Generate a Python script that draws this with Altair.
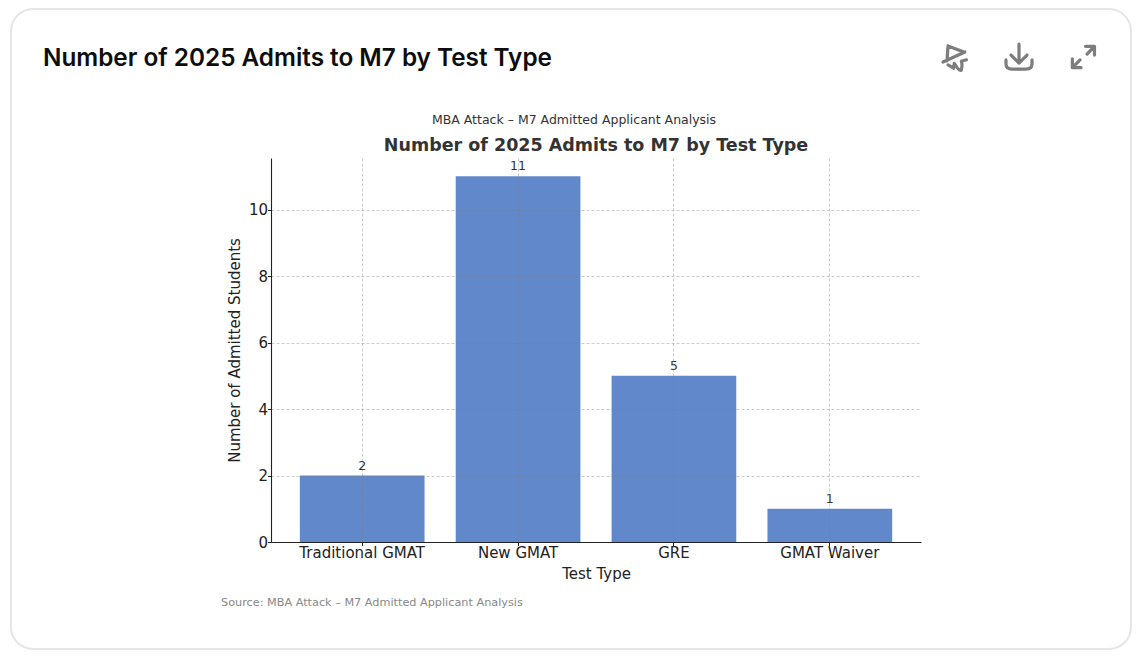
import altair as alt
import pandas as pd

categories = ["Traditional GMAT", "New GMAT", "GRE", "GMAT Waiver"]
admits = [2, 11, 5, 1]
card_title = "Number of 2025 Admits to M7 by Test Type"
super_title = "MBA Attack – M7 Admitted Applicant Analysis"
chart_title = "Number of 2025 Admits to M7 by Test Type"
source_note = "Source: MBA Attack – M7 Admitted Applicant Analysis"
x_title = "Test Type"
y_title = "Number of Admitted Students"

PLOT_X, PLOT_Y = 271, 158
FONT = "DejaVu Sans"

DOWNLOAD = "M0,-0.93 L0,0.43 M-0.57,-0.14 L0,0.43 L0.57,-0.14 M-0.93,0.21 L-0.93,0.5 Q-0.93,0.86 -0.5,0.86 L0.5,0.86 Q0.93,0.86 0.93,0.5 L0.93,0.21"
EXPAND = "M0.18,-0.76 L0.82,-0.76 L0.82,-0.14 M0.82,-0.76 L0.29,-0.21 M-0.76,0.14 L-0.76,0.76 L-0.14,0.76 M-0.76,0.76 L-0.21,0.21"
PIN = "M-0.86,0.36 L0.71,-0.36 M-0.5,-0.79 L0.64,-0.36 M-0.5,-0.79 L-0.57,0.28 M-0.5,0.57 L-0.1,0.8 L-0.05,0.45 Q0.25,1.0 0.45,0.95 Q0.55,0.5 0.45,0.3 L0.82,0.2"

df = pd.DataFrame({"category": categories, "admits": admits})
one = pd.DataFrame({"a": [0]})


def px(x):
    return alt.value(x - PLOT_X)


def py(y):
    return alt.value(y - PLOT_Y)


def label(text, x, y, font=FONT, **kw):
    return alt.Chart(pd.DataFrame({"t": [text]})).mark_text(font=font, **kw).encode(
        x=px(x), y=py(y), text="t:N"
    )


def icon(path, x, y):
    return alt.Chart(one).mark_point(
        shape=path, size=784, filled=False, stroke="#7d7d7d", strokeWidth=3.2,
        strokeCap="round", strokeJoin="round", opacity=1,
    ).encode(x=px(x), y=py(y))


card = alt.Chart(one).mark_rect(
    fill="white", stroke="#e6e6e6", strokeWidth=2, cornerRadius=22
).encode(x=px(11), x2=px(1131), y=py(9), y2=py(649))

axis_style = dict(
    zindex=1, grid=True, gridColor="#808080", gridOpacity=0.5, gridDash=[3, 2],
    gridWidth=0.8, domainColor="#222", domainWidth=1.1, tickColor="#222",
    tickSize=3.5, tickWidth=1, labelFont=FONT, labelFontSize=15, labelColor="#222",
    titleFont=FONT, titleFontSize=15, titleFontWeight="normal", titleColor="#222",
)

x_enc = alt.X(
    "category:N",
    sort=categories,
    scale=alt.Scale(paddingInner=0.2, paddingOuter=0.185, round=False),
    axis=alt.Axis(title=x_title, labelAngle=0, labelPadding=0, titlePadding=6, **axis_style),
)
y_enc = alt.Y(
    "admits:Q",
    scale=alt.Scale(domain=[0, 11.55], nice=False),
    axis=alt.Axis(title=y_title, values=[0, 2, 4, 6, 8, 10], labelPadding=0, titlePadding=6, **axis_style),
)

bars = alt.Chart(df).mark_bar(color="#6088cb").encode(x=x_enc, y=y_enc)
values = alt.Chart(df).mark_text(
    font=FONT, fontSize=12.5, color="#333", baseline="bottom", dy=-3
).encode(x=alt.X("category:N", sort=categories), y=alt.Y("admits:Q"), text="admits:Q")

chart = alt.layer(
    card,
    bars,
    values,
    label(card_title, 43, 59, font="Inter", fontSize=24.3, fontWeight=600, color="#0d0d0d", align="left", baseline="middle"),
    label(super_title, 574, 119.5, fontSize=12.5, color="#333", align="center", baseline="middle"),
    label(chart_title, 596, 145.5, fontSize=17.5, fontWeight="bold", color="#333", align="center", baseline="middle"),
    label(source_note, 221, 602.5, fontSize=11.25, color="#888", align="left", baseline="middle"),
    icon(PIN, 955, 57),
    icon(DOWNLOAD, 1019, 57),
    icon(EXPAND, 1083, 57),
).properties(
    width=650, height=384, padding={"left": 2, "top": 0, "right": 0, "bottom": 0},
    background="white",
).configure_view(strokeWidth=0)

chart.save("out.html", embed_options={"renderer": "svg", "actions": False})
